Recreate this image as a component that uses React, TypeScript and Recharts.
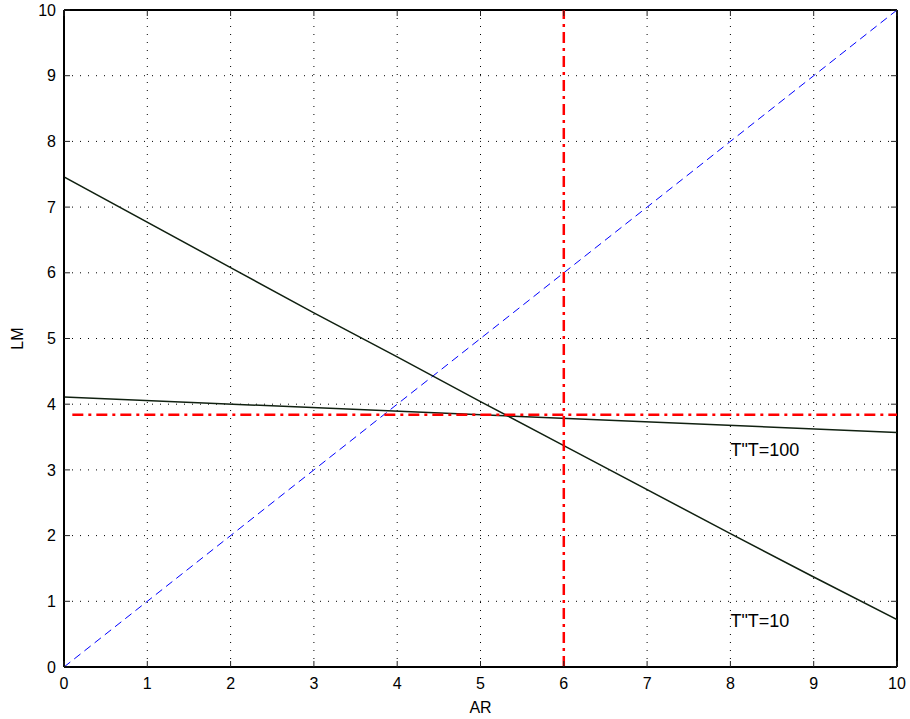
import React from 'react';
import { LineChart, Line, XAxis, YAxis, CartesianGrid, ReferenceLine, ReferenceDot } from 'recharts';

const xTicks = [0, 1, 2, 3, 4, 5, 6, 7, 8, 9, 10];
const yTicks = [0, 1, 2, 3, 4, 5, 6, 7, 8, 9, 10];

const steepLine = [
  { ar: 0, lm: 7.46 },
  { ar: 2, lm: 6.08 },
  { ar: 3, lm: 5.39 },
  { ar: 4, lm: 4.72 },
  { ar: 5, lm: 4.04 },
  { ar: 6, lm: 3.37 },
  { ar: 8, lm: 2.03 },
  { ar: 9, lm: 1.37 },
  { ar: 10, lm: 0.72 },
];
const flatLine = [
  { ar: 0, lm: 4.11 },
  { ar: 10, lm: 3.57 },
];
const diagonal = [
  { ar: 0, lm: 0 },
  { ar: 10, lm: 10 },
];
const redHorizontal = [
  { ar: 0.1, lm: 3.84 },
  { ar: 10, lm: 3.84 },
];
const redVertical = [
  { ar: 6, lm: 0 },
  { ar: 6, lm: 10 },
];
const annotations = [
  { ar: 8, lm: 3.21, text: 'T"T=100' },
  { ar: 8, lm: 0.61, text: 'T"T=10' },
];

const W = 910;
const H = 719;
const PW = 833;
const PH = 657;
const FONT = '"Liberation Sans", Arial, Helvetica, sans-serif';

const XTick = (props: any) => {
  const { x, y, payload } = props;
  const axisY = y - 11;
  return (
    <g>
      <line x1={x} x2={x} y1={axisY} y2={axisY - 6} stroke="#222" strokeWidth={1} />
      <line x1={x} x2={x} y1={axisY - PH} y2={axisY - PH + 6} stroke="#222" strokeWidth={1} />
      <text x={x} y={y} dy="0.71em" textAnchor="middle" fontSize={16} fill="#000" fontFamily={FONT}>
        {payload.value}
      </text>
    </g>
  );
};

const YTick = (props: any) => {
  const { x, y, payload } = props;
  const axisX = x + 8;
  return (
    <g>
      <line x1={axisX} x2={axisX + 6} y1={y} y2={y} stroke="#222" strokeWidth={1} />
      <line x1={axisX + PW - 6} x2={axisX + PW} y1={y} y2={y} stroke="#222" strokeWidth={1} />
      <text x={x} y={y} dy="0.355em" textAnchor="end" fontSize={16} fill="#000" fontFamily={FONT}>
        {payload.value}
      </text>
    </g>
  );
};

export default function App() {
  return (
    <div style={{ position: 'absolute', left: 0, top: 0, background: '#fff' }}>
      <LineChart width={W} height={H} margin={{ top: 10, right: 13, left: 0, bottom: 0 }}>
        <CartesianGrid stroke="#000" strokeDasharray="1 7" strokeWidth={1} />
        <XAxis
          type="number"
          dataKey="ar"
          domain={[0, 10]}
          ticks={xTicks}
          allowDataOverflow
          height={52}
          tickSize={0}
          tickMargin={11}
          tick={<XTick />}
          tickLine={false}
          axisLine={{ stroke: '#000', strokeWidth: 2 }}
          label={{ value: 'AR', position: 'insideBottom', offset: 6, fontSize: 16, fill: '#000', fontFamily: FONT }}
        />
        <YAxis
          type="number"
          dataKey="lm"
          domain={[0, 10]}
          ticks={yTicks}
          allowDataOverflow
          width={64}
          tickSize={0}
          tickMargin={8}
          tick={<YTick />}
          tickLine={false}
          axisLine={{ stroke: '#000', strokeWidth: 2 }}
          label={(p: any) => {
            const vb = p.viewBox || { x: 0, y: 10, width: 64, height: PH };
            const cx = vb.x + 17;
            const cy = vb.y + vb.height / 2;
            return (
              <text
                x={cx}
                y={cy}
                transform={`rotate(-90 ${cx} ${cy})`}
                textAnchor="middle"
                dy="0.355em"
                fontSize={16}
                fill="#000"
                fontFamily={FONT}
              >
                LM
              </text>
            );
          }}
        />
        <ReferenceLine x={10} stroke="#000" strokeWidth={2} />
        <ReferenceLine y={10} stroke="#000" strokeWidth={2} />
        <Line data={diagonal} dataKey="lm" stroke="#0000ff" strokeWidth={1} strokeDasharray="8 5" dot={false} isAnimationActive={false} />
        <Line data={steepLine} dataKey="lm" stroke="#102010" strokeWidth={1.5} dot={false} isAnimationActive={false} />
        <Line data={flatLine} dataKey="lm" stroke="#102010" strokeWidth={1.5} dot={false} isAnimationActive={false} />
        <Line data={redHorizontal} dataKey="lm" stroke="#ff0000" strokeWidth={2.5} strokeDasharray="11 5 3 5" dot={false} isAnimationActive={false} />
        <Line data={redVertical} dataKey="lm" stroke="#ff0000" strokeWidth={2.5} strokeDasharray="11 5 3 5" dot={false} isAnimationActive={false} />
        {annotations.map((a) => (
          <ReferenceDot
            key={a.text}
            x={a.ar}
            y={a.lm}
            r={0}
            shape={(p: any) => (
              <text x={p.cx} y={p.cy} fontSize={18} fill="#000" fontFamily={FONT}>
                {a.text}
              </text>
            )}
          />
        ))}
      </LineChart>
    </div>
  );
}
